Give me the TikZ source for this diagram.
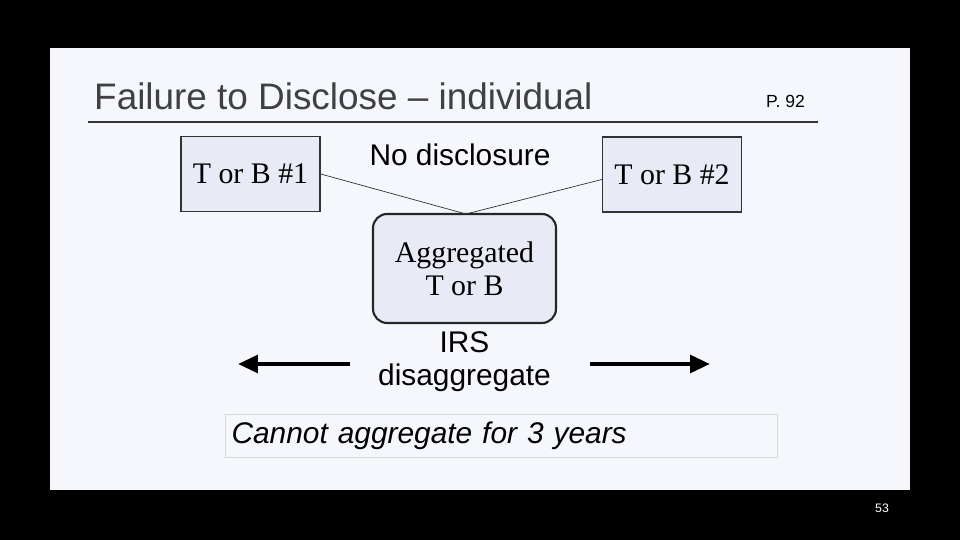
\documentclass[tikz,border=0pt]{standalone}
\usepackage{fontspec}
\setmainfont{Liberation Serif}
\setsansfont{Liberation Sans}
\usetikzlibrary{positioning, arrows.meta, calc}
\definecolor{slidebg}{HTML}{F5F7FC}
\definecolor{boxfill}{HTML}{E8EBF5}

\begin{document}
\begin{tikzpicture}[
    x=0.02cm, y=-0.02cm,
    party/.style={rectangle, draw=black!80, fill=boxfill, thick, minimum width=2.78cm, minimum height=1.5cm, font=\fontsize{17}{19}\selectfont},
    pool/.style={rectangle, draw=black!85, fill=boxfill, very thick, rounded corners=8pt, minimum width=3.66cm, minimum height=2.18cm, align=center, font=\fontsize{17}{19}\selectfont},
    label/.style={align=center, font=\sffamily\fontsize{17}{19}\selectfont},
    line/.style={draw, -{Triangle[length=4mm, width=3.5mm]}, line width=2.5pt}
]

    % Background
    \fill[black] (0,0) rectangle (960,540);
    \fill[slidebg] (50,48) rectangle (910,490);

    % Title
    \node[anchor=base west, font=\sffamily\fontsize{21}{24}\selectfont, text=black!75] (title) at (88,110) {Failure to Disclose -- individual};
    \node[anchor=base west, font=\sffamily\fontsize{10}{12}\selectfont] (page) at (760,108) {P. 92};
    \draw[thick, black!80] (88,122) -- (818,122);

    % Nodes
    \node[party] (tb1) at (250.5,174) {T or B \#1};
    \node[party] (tb2) at (672,174.5) {T or B \#2};
    \node[label] (nodisc) at (460,155) {No disclosure};
    \node[pool] (agg) at (464.5,268.5) {Aggregated\\T or B};
    \coordinate (join) at (466,214);
    \node[label, below=4pt of agg, inner sep=0pt] (irs) {IRS\\disaggregate};

    % Connectors
    \draw[black!80] (tb1.east) -- (join);
    \draw[black!80] ($(tb2.west)+(0,5)$) -- (join);

    % Arrows
    \coordinate (lstart) at (350,364);
    \coordinate (lend) at (238,364);
    \coordinate (rstart) at (590,364);
    \coordinate (rend) at (710,364);
    \draw[line] (lstart) -- (lend);
    \draw[line] (rstart) -- (rend);

    % Note
    \node[draw=black!15, fill=slidebg, minimum width=11.02cm, minimum height=0.86cm, text width=10.8cm, align=left, font=\sffamily\itshape\fontsize{17}{19}\selectfont] (note) at (501.5,435.5) {Cannot aggregate for 3 years};

    % Slide number
    \node[text=white, font=\sffamily\fontsize{7}{8}\selectfont] (num) at (882,508) {53};

\end{tikzpicture}
\end{document}
